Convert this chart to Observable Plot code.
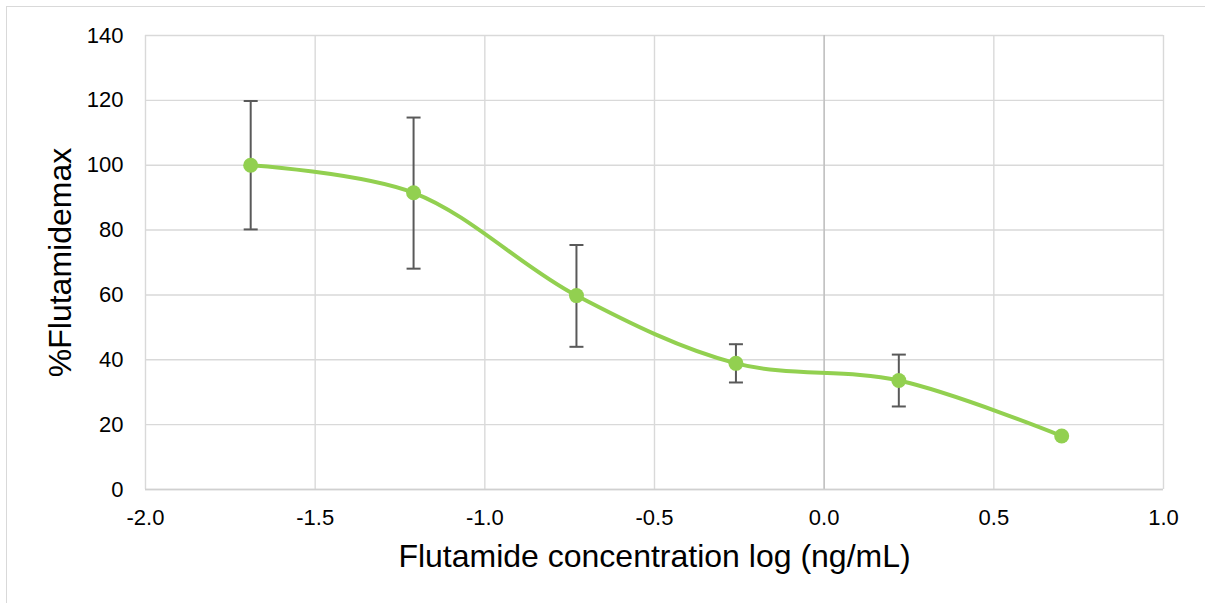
<!DOCTYPE html>
<html>
<head>
<meta charset="utf-8">
<script src="https://cdn.jsdelivr.net/npm/d3@7"></script>
<script src="https://cdn.jsdelivr.net/npm/@observablehq/plot@0.6"></script>
<style>
  html, body { margin: 0; padding: 0; background: #fff; overflow: hidden; width: 1205px; height: 603px; }
  #frame { position: absolute; left: 6px; top: 6px; width: 1400px; height: 800px; border: 1px solid #d9d9d9; box-sizing: border-box; }
  #chart { position: absolute; left: 0; top: 0; }
  #chart svg { background: transparent !important; }
</style>
</head>
<body>
<div id="frame"></div>
<div id="chart"></div>
<script>
// Data
const logConc = [-1.69, -1.21, -0.73, -0.26, 0.22, 0.70];
const pctMax  = [100.0, 91.5, 59.8, 38.9, 33.6, 16.5];
const errHigh = [119.8, 114.7, 75.4, 44.8, 41.6, null];
const errLow  = [80.2, 68.1, 44.0, 33.0, 25.6, null];
const xTicks = [-2.0, -1.5, -1.0, -0.5, 0.0, 0.5, 1.0];
const yTicks = [0, 20, 40, 60, 80, 100, 120, 140];

const points = logConc.map((x, i) => ({x, y: pctMax[i], hi: errHigh[i], lo: errLow[i]}));
const bars = points.filter(d => d.hi != null);

const green = "#92D050";
const errColor = "#595959";
const font = "Liberation Sans, Arial, sans-serif";

// horizontal cap symbol for error bars
const capSymbol = {
  draw(context, size) {
    const r = Math.sqrt(size / Math.PI);
    context.moveTo(-r, 0);
    context.lineTo(r, 0);
  }
};

const chart = Plot.plot({
  width: 1205,
  height: 603,
  marginLeft: 145,
  marginRight: 42,
  marginTop: 35,
  marginBottom: 114,
  style: {fontFamily: font, background: "transparent", color: "#000"},
  x: {domain: [-2, 1]},
  y: {domain: [0, 140]},
  marks: [
    Plot.gridX(xTicks, {stroke: "#d9d9d9", strokeOpacity: 1, strokeWidth: 1.4}),
    Plot.gridY(yTicks, {stroke: "#d9d9d9", strokeOpacity: 1, strokeWidth: 1.4}),
    Plot.ruleX([0], {stroke: "#bfbfbf", strokeWidth: 1.4}),
    Plot.ruleY([0], {stroke: "#d0d0d0", strokeWidth: 1.6}),
    Plot.axisX(xTicks, {tickSize: 0, tickPadding: 20, fontSize: 22, tickFormat: d => d.toFixed(1), label: null, fill: "#000"}),
    Plot.axisY(yTicks, {tickSize: 0, tickPadding: 22, fontSize: 22, label: null, fill: "#000"}),
    Plot.ruleX(bars, {x: "x", y1: "lo", y2: "hi", stroke: errColor, strokeWidth: 2}),
    Plot.dot(bars, {x: "x", y: "hi", symbol: capSymbol, r: 7, stroke: errColor, strokeWidth: 2}),
    Plot.dot(bars, {x: "x", y: "lo", symbol: capSymbol, r: 7, stroke: errColor, strokeWidth: 2}),
    Plot.line(points, {x: "x", y: "y", curve: "catmull-rom", stroke: green, strokeWidth: 4}),
    Plot.dot(points, {x: "x", y: "y", r: 7.5, fill: green, stroke: "none"}),
    Plot.text(["Flutamide concentration log (ng/mL)"], {frameAnchor: "bottom", dy: 77, fontSize: 32, lineAnchor: "bottom", textAnchor: "middle", fill: "#000"}),
    Plot.text(["%Flutamidemax"], {frameAnchor: "left", dx: -75, rotate: -90, fontSize: 32, lineAnchor: "bottom", textAnchor: "middle", fill: "#000"})
  ]
});
document.getElementById("chart").appendChild(chart);
</script>
</body>
</html>
